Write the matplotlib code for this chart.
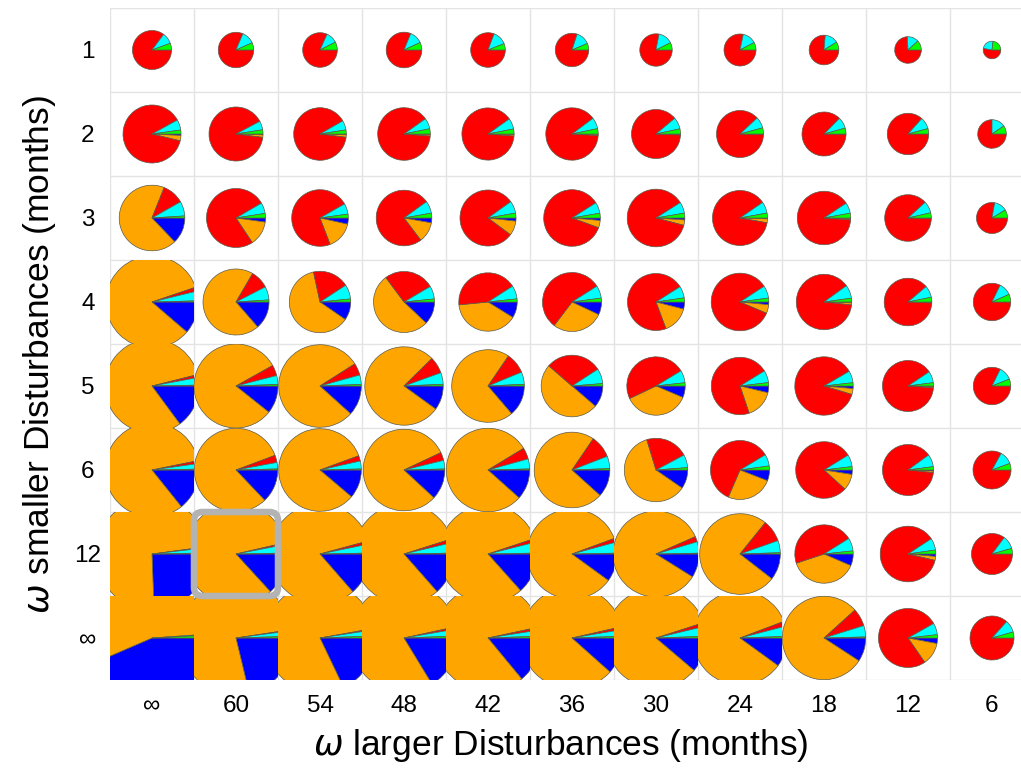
import matplotlib
matplotlib.use("Agg")
import matplotlib.pyplot as plt
from matplotlib.patches import Rectangle, FancyBboxPatch

plt.rcParams['font.family'] = ['Liberation Sans', 'DejaVu Sans']

# ---------------- data ----------------
col_labels = ['∞', '60', '54', '48', '42', '36', '30', '24', '18', '12', '6']   # omega larger
row_labels = ['1', '2', '3', '4', '5', '6', '12', '∞']                          # omega smaller

slice_colors = ['#0000ff', '#ffa500', '#ff0000', '#00ffff', '#00ff00']  # blue, orange, red, cyan, green

blue_pct = [
    [0, 0, 0, 0, 0, 0, 0, 0, 0, 0, 0],
    [0.8, 0.5, 0.5, 0.3, 0.3, 0.2, 0.2, 0, 0, 0, 0],
    [12.8, 2.2, 3.5, 2.8, 1.8, 1.4, 1.1, 0.5, 0.3, 0.2, 0],
    [11.3, 13.6, 9.6, 12.1, 8.8, 7.0, 4.0, 1.5, 0.5, 0.2, 0],
    [14.9, 10.7, 11.7, 10.0, 13.75, 11.3, 6.4, 3.75, 1.4, 0.4, 0],
    [14.25, 12.9, 11.2, 11.9, 11.6, 11.7, 9.6, 5.9, 2.5, 0.7, 0],
    [24.4, 13.2, 13.6, 13.5, 13.4, 10.0, 8.9, 10.5, 6.5, 1.4, 0],
    [43.5, 21.25, 17.9, 16.3, 14.0, 11.6, 11.2, 10.0, 9.2, 3.0, 0],
]
orange_pct = [
    [0, 0, 0, 0, 0, 0, 0, 0, 0, 0, 0],
    [3.0, 1.5, 1.5, 1.0, 1.0, 0.8, 0.5, 0.3, 0.2, 0, 0],
    [68.0, 13.5, 15.7, 11.9, 8.4, 4.2, 3.0, 2.3, 0.8, 0.3, 0],
    [83.5, 69.9, 62.0, 52.8, 39.6, 28.3, 15.3, 4.9, 1.2, 0.5, 0],
    [81.2, 81.2, 79.3, 77.7, 70.8, 50.0, 36.6, 16.1, 3.3, 0.8, 0],
    [82.6, 81.3, 83.2, 81.1, 79.7, 72.8, 60.7, 25.6, 9.3, 1.0, 0],
    [73.5, 83.2, 82.2, 81.6, 81.5, 84.4, 84.5, 75.3, 38.4, 2.3, 0],
    [55.4, 76.35, 79.3, 80.3, 82.6, 84.85, 83.85, 84.25, 79.1, 12.4, 0],
]
red_pct = [
    [85.2, 81.4, 81.7, 81.2, 80.8, 80.0, 78.0, 78.3, 76.4, 74.1, 53.0],
    [88.2, 90.2, 89.7, 88.9, 88.9, 88.8, 88.2, 87.7, 87.2, 86.6, 75.0],
    [10.7, 75.9, 72.5, 75.4, 79.9, 85.4, 86.8, 87.6, 89.5, 87.7, 77.8],
    [1.4, 9.0, 19.2, 26.7, 42.4, 55.6, 71.6, 84.4, 88.3, 88.1, 82.2],
    [1.0, 4.1, 4.7, 6.9, 9.25, 29.4, 48.4, 71.4, 86.8, 89.5, 82.3],
    [1.0, 2.8, 2.1, 3.2, 4.4, 9.6, 21.9, 59.9, 79.4, 88.3, 83.0],
    [0.3, 0.6, 1.0, 1.2, 1.2, 1.4, 2.0, 8.8, 46.2, 87.1, 85.2],
    [0.0, 0.3, 0.4, 0.7, 0.9, 0.9, 1.2, 1.7, 6.9, 76.4, 86.6],
]
cyan_pct = [
    [9.2, 11.9, 10.8, 11.9, 13.2, 13.6, 14.6, 14.0, 14.7, 14.2, 24.0],
    [5.8, 5.3, 5.8, 6.6, 6.7, 6.9, 7.7, 7.8, 8.3, 9.2, 15.5],
    [7.2, 5.9, 6.1, 7.2, 7.1, 6.3, 6.3, 6.7, 6.5, 8.2, 13.6],
    [3.4, 6.6, 7.6, 6.9, 7.4, 6.9, 6.7, 7.0, 7.8, 8.0, 11.1],
    [2.6, 3.4, 3.7, 4.8, 5.5, 7.9, 6.9, 6.9, 6.6, 7.3, 11.7],
    [1.9, 2.5, 3.1, 3.4, 3.9, 5.3, 6.6, 6.4, 6.9, 7.9, 11.4],
    [1.5, 2.7, 2.9, 3.4, 3.6, 3.9, 4.3, 4.9, 7.2, 6.9, 10.4],
    [0.3, 1.6, 1.8, 2.1, 1.9, 2.1, 3.2, 3.5, 4.4, 6.4, 9.0],
]
green_pct = [
    [5.6, 6.7, 7.5, 6.9, 6.0, 6.4, 7.4, 7.7, 8.9, 11.7, 23.0],
    [2.2, 2.5, 2.5, 3.2, 3.1, 3.3, 3.4, 4.2, 4.3, 4.2, 9.5],
    [1.0, 2.5, 2.2, 2.8, 2.8, 2.7, 2.7, 2.9, 2.9, 3.6, 8.6],
    [0.4, 1.0, 1.6, 1.6, 1.7, 2.1, 2.3, 2.2, 2.2, 3.2, 6.7],
    [0.3, 0.6, 0.6, 0.7, 0.75, 1.25, 1.8, 1.9, 1.8, 2.1, 6.0],
    [0.3, 0.4, 0.4, 0.4, 0.4, 0.6, 1.2, 2.2, 1.9, 2.1, 5.6],
    [0.3, 0.3, 0.3, 0.3, 0.3, 0.3, 0.3, 0.5, 1.7, 2.3, 4.4],
    [0.8, 0.5, 0.6, 0.6, 0.55, 0.55, 0.55, 0.55, 0.4, 1.8, 4.4],
]
# pie radius (pixels; one grid cell = 84 px)
pie_radius = [
    [19.5, 17.7, 17.3, 17.8, 17.3, 16.7, 16.2, 16.0, 14.8, 13.3, 8.8],
    [29.0, 27.0, 26.3, 26.3, 26.1, 26.2, 24.5, 23.5, 22.0, 20.7, 14.3],
    [32.8, 29.5, 28.3, 27.8, 28.0, 28.3, 28.8, 27.5, 26.7, 23.3, 15.5],
    [46.0, 33.0, 30.7, 30.5, 29.2, 29.5, 28.5, 28.8, 27.7, 23.8, 18.7],
    [47.0, 42.0, 41.3, 39.2, 36.3, 30.8, 29.2, 28.7, 29.2, 25.5, 18.7],
    [47.0, 41.7, 41.3, 40.8, 41.7, 37.8, 31.7, 29.5, 28.3, 25.5, 19.0],
    [56.0, 51.0, 50.0, 50.0, 49.0, 45.0, 43.0, 40.3, 29.2, 27.8, 20.5],
    [65.0, 57.0, 55.0, 54.0, 53.0, 51.0, 50.0, 47.0, 41.7, 29.5, 22.0],
]
highlight_cell = ('60', '12')   # (omega larger, omega smaller)

# ---------------- layout ----------------
W, H = 1021, 774
CELL = 84.0
fig = plt.figure(figsize=(W / 100, H / 100), dpi=100)
gx0, gtop = 110, 8
ncol, nrow = len(col_labels), len(row_labels)
ax = fig.add_axes([gx0 / W, 1 - (gtop + nrow * CELL) / H, ncol * CELL / W, nrow * CELL / H])

for i, rl in enumerate(row_labels):
    cy = nrow - 1 - i
    for j, cl in enumerate(col_labels):
        cx = j
        vals = [blue_pct[i][j], orange_pct[i][j], red_pct[i][j], cyan_pct[i][j], green_pct[i][j]]
        keep = [(v, c) for v, c in zip(vals, slice_colors) if v > 0]
        wedges, _ = ax.pie([v for v, _ in keep], colors=[c for _, c in keep],
                           radius=pie_radius[i][j] / CELL, center=(cx, cy),
                           startangle=0, counterclock=False, frame=True,
                           wedgeprops=dict(edgecolor='#5a5a4a', linewidth=0.5))
        clip = Rectangle((cx - 0.5, cy - 0.5), 1, 1, transform=ax.transData)
        for w in wedges:
            w.set_clip_on(True)
            w.set_clip_path(clip)
            w.set_zorder(2)

for k in range(ncol + 1):
    ax.axvline(k - 0.5, color='#e3e3e3', lw=1.0, zorder=0)
for k in range(nrow + 1):
    ax.axhline(k - 0.5, color='#e3e3e3', lw=1.0, zorder=0)

ax.set_xlim(-0.5, ncol - 0.5)
ax.set_ylim(-0.5, nrow - 0.5)
ax.set_aspect('auto')
for s in ax.spines.values():
    s.set_visible(False)

ax.set_xticks(range(ncol))
ax.set_xticklabels(col_labels, fontsize=17.5)
ax.set_yticks(range(nrow))
ax.set_yticklabels(row_labels[::-1], fontsize=17.5, ha='center')
ax.tick_params(axis='x', length=0, pad=11)
ax.tick_params(axis='y', length=0, pad=16)

# highlight box
hj = col_labels.index(highlight_cell[0])
hi = row_labels.index(highlight_cell[1])
hcy = nrow - 1 - hi
box = FancyBboxPatch((hj - 0.5, hcy - 0.5), 1, 1,
                     boxstyle='round,pad=0,rounding_size=0.1',
                     facecolor='none', edgecolor='#b3b3b3', linewidth=4.7,
                     transform=ax.transData, zorder=5, clip_on=False)
ax.add_patch(box)

fig.text(561 / W, 1 - 745 / H, r'$\omega$ larger Disturbances (months)',
         ha='center', va='center', fontsize=25.5)
fig.text(40 / W, 1 - 355 / H, r'$\omega$ smaller Disturbances (months)',
         ha='center', va='center', rotation=90, fontsize=25.5)

fig.savefig('out.png', dpi=100)
